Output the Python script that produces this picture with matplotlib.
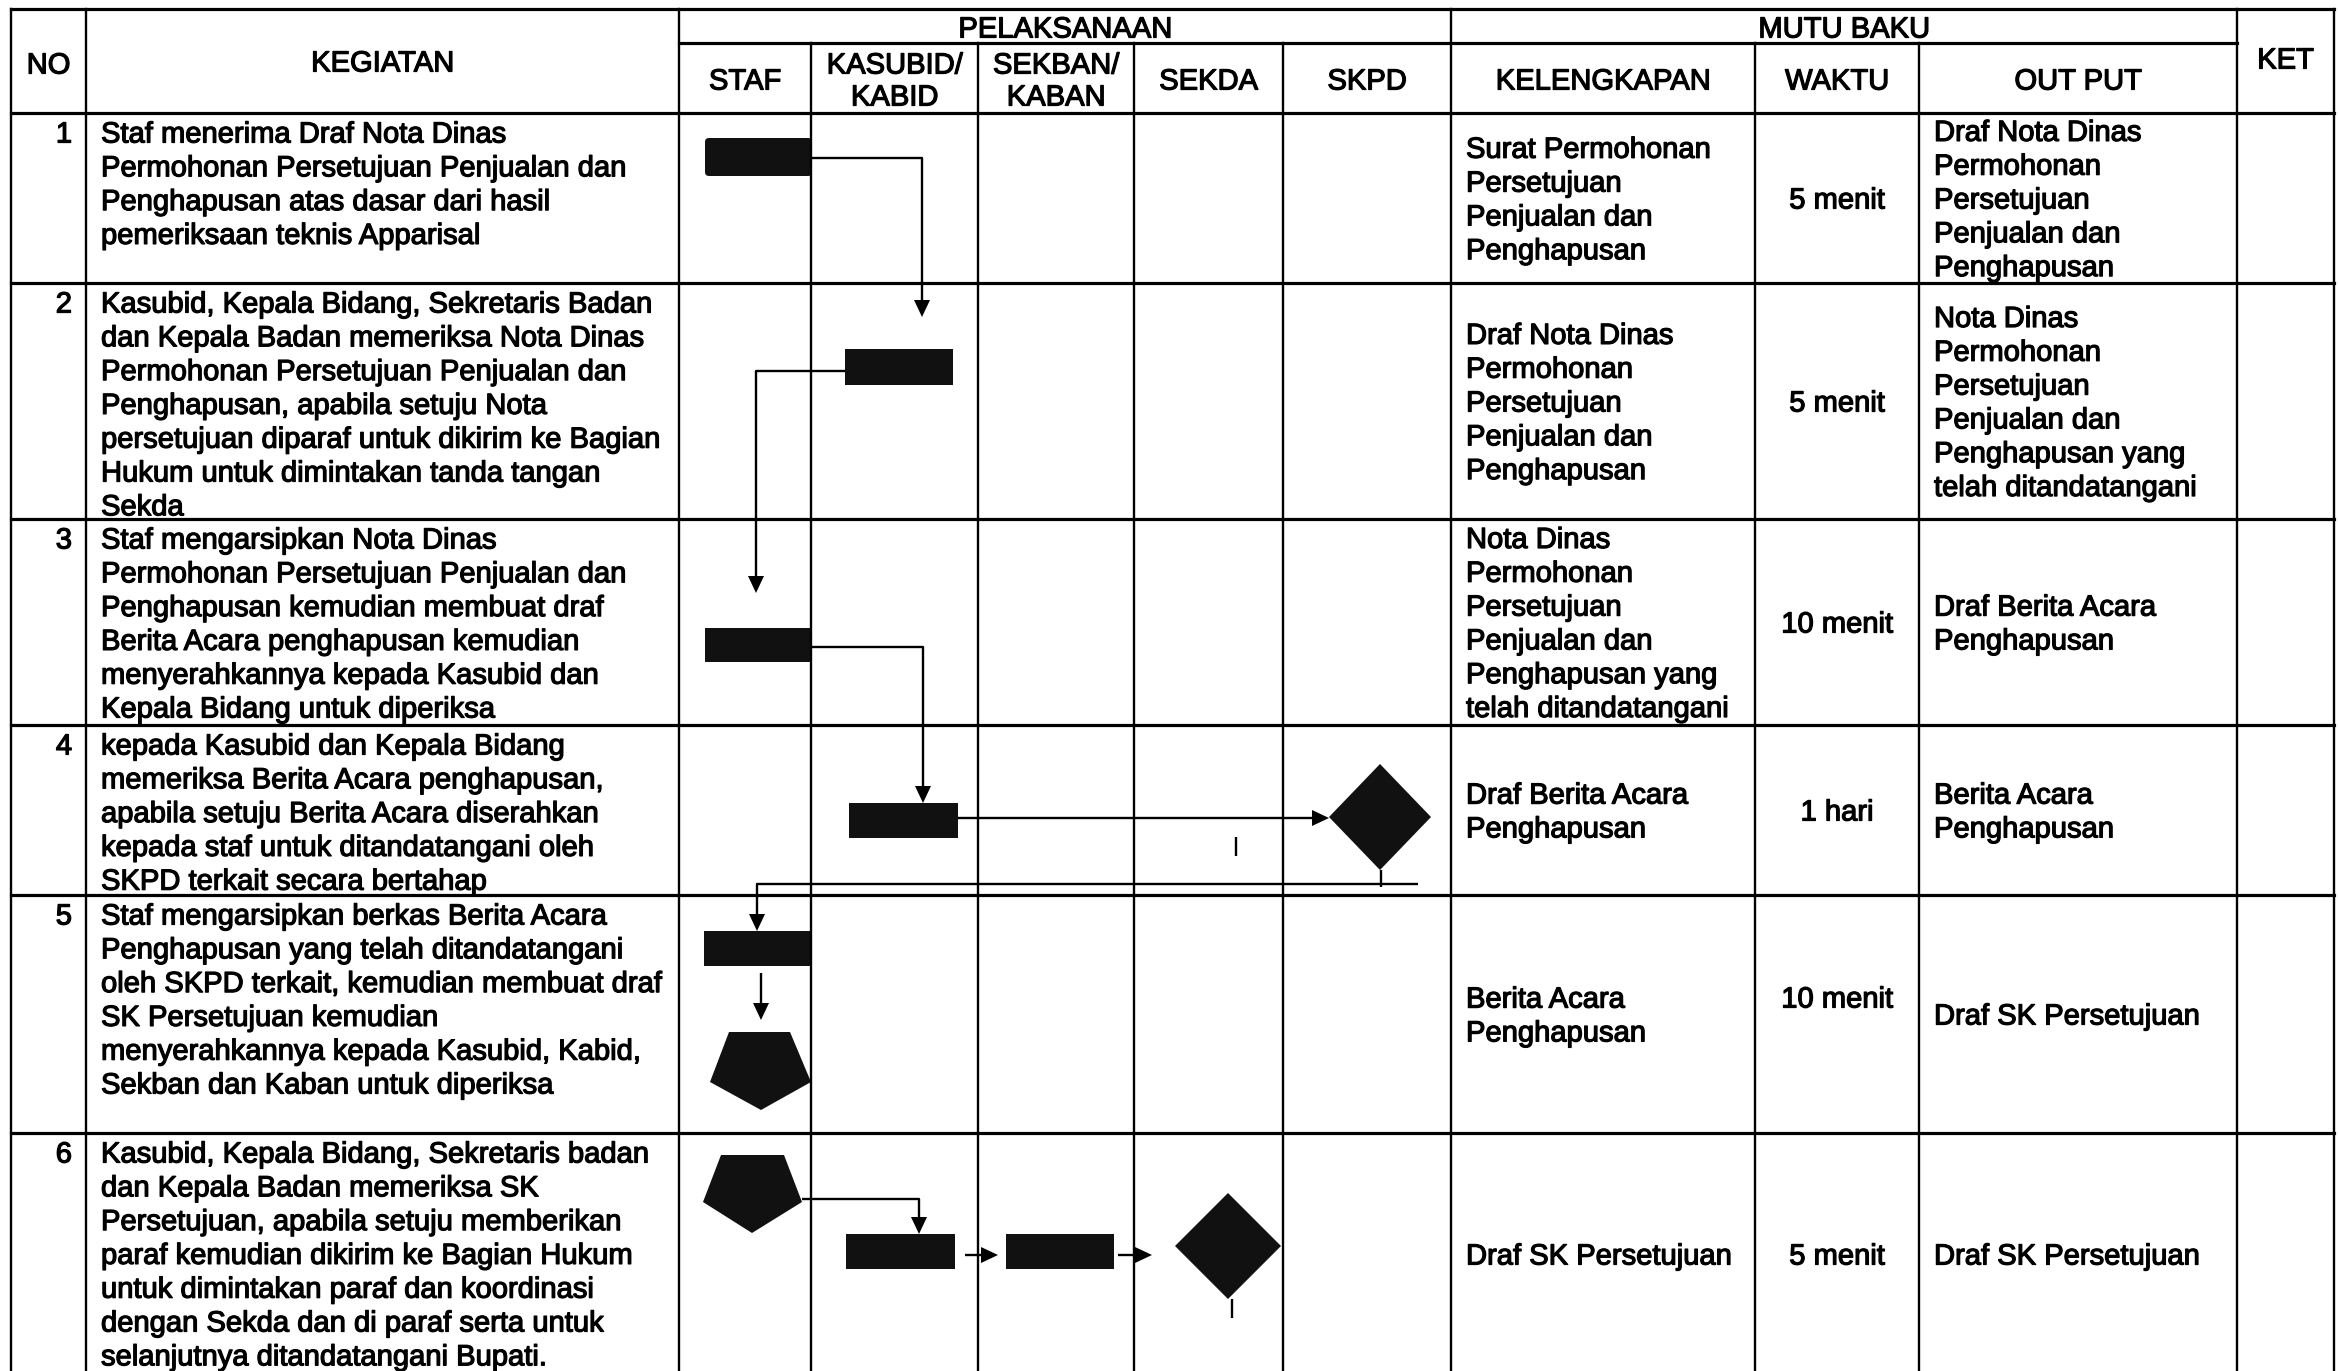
import matplotlib
matplotlib.use("Agg")
import matplotlib.pyplot as plt
from matplotlib.patches import Polygon, FancyBboxPatch, Rectangle
import matplotlib.patheffects as pe

# ---------------- data ----------------
row_numbers = ["1", "2", "3", "4", "5", "6"]

kegiatan = [
    ["Staf menerima Draf Nota Dinas", "Permohonan Persetujuan Penjualan dan",
     "Penghapusan atas dasar dari hasil", "pemeriksaan teknis Apparisal"],
    ["Kasubid, Kepala Bidang, Sekretaris Badan", "dan Kepala Badan memeriksa Nota Dinas",
     "Permohonan Persetujuan Penjualan dan", "Penghapusan, apabila setuju Nota",
     "persetujuan diparaf untuk dikirim ke Bagian", "Hukum untuk dimintakan tanda tangan",
     "Sekda"],
    ["Staf mengarsipkan Nota Dinas", "Permohonan Persetujuan Penjualan dan",
     "Penghapusan kemudian membuat draf", "Berita Acara penghapusan kemudian",
     "menyerahkannya kepada Kasubid dan", "Kepala Bidang untuk diperiksa"],
    ["kepada Kasubid dan Kepala Bidang", "memeriksa Berita Acara penghapusan,",
     "apabila setuju Berita Acara diserahkan", "kepada staf untuk ditandatangani oleh",
     "SKPD terkait secara bertahap"],
    ["Staf mengarsipkan berkas Berita Acara", "Penghapusan yang telah ditandatangani",
     "oleh SKPD terkait, kemudian membuat draf", "SK Persetujuan kemudian",
     "menyerahkannya kepada Kasubid, Kabid,", "Sekban dan Kaban untuk diperiksa"],
    ["Kasubid, Kepala Bidang, Sekretaris badan", "dan Kepala Badan memeriksa SK",
     "Persetujuan, apabila setuju memberikan", "paraf kemudian dikirim ke Bagian Hukum",
     "untuk dimintakan paraf dan koordinasi", "dengan Sekda dan di paraf serta untuk",
     "selanjutnya ditandatangani Bupati."],
]

kelengkapan = [
    ["Surat Permohonan", "Persetujuan", "Penjualan dan", "Penghapusan"],
    ["Draf Nota Dinas", "Permohonan", "Persetujuan", "Penjualan dan", "Penghapusan"],
    ["Nota Dinas", "Permohonan", "Persetujuan", "Penjualan dan", "Penghapusan yang",
     "telah ditandatangani"],
    ["Draf Berita Acara", "Penghapusan"],
    ["Berita Acara", "Penghapusan"],
    ["Draf SK Persetujuan"],
]

waktu = ["5 menit", "5 menit", "10 menit", "1 hari", "10 menit", "5 menit"]

output = [
    ["Draf Nota Dinas", "Permohonan", "Persetujuan", "Penjualan dan", "Penghapusan"],
    ["Nota Dinas", "Permohonan", "Persetujuan", "Penjualan dan", "Penghapusan yang",
     "telah ditandatangani"],
    ["Draf Berita Acara", "Penghapusan"],
    ["Berita Acara", "Penghapusan"],
    ["Draf SK Persetujuan"],
    ["Draf SK Persetujuan"],
]

group_headers = ["PELAKSANAAN", "MUTU BAKU"]
sub_headers = ["STAF", "KASUBID/\nKABID", "SEKBAN/\nKABAN", "SEKDA", "SKPD",
               "KELENGKAPAN", "WAKTU", "OUT PUT"]
main_headers = ["NO", "KEGIATAN", "KET"]

# ---------------- layout ----------------
W, H = 2338, 1371
col_x = [11, 86, 679, 811, 978, 1134, 1283, 1451, 1755, 1919, 2237, 2334]
top_y, sub_y, head_bot = 9, 43, 113
row_y = [113, 283, 519, 725, 895, 1133, 1375]
LS = 33.8          # line spacing in px
CAP = 10.5         # half cap-height in px (center -> baseline)
FS = 21            # font size pt

fig = plt.figure(figsize=(W / 100, H / 100), dpi=100)
ax = fig.add_axes([0, 0, 1, 1])
ax.set_xlim(0, W)
ax.set_ylim(H, 0)
ax.axis("off")

FONT = dict(family=["Liberation Sans", "DejaVu Sans"], fontsize=FS, color="black",
            path_effects=[pe.withStroke(linewidth=0.9, foreground="black")])

def txt(x, yc, s, ha="left"):
    ax.text(x, yc + CAP, s, ha=ha, va="baseline", **FONT)

hl, vl = 2.3, 1.7
# horizontal lines
ax.plot([col_x[0], col_x[-1]], [top_y, top_y], color="black", lw=hl)
ax.plot([col_x[2], col_x[10]], [sub_y, sub_y], color="black", lw=hl)
for y in row_y[:-1]:
    ax.plot([col_x[0], col_x[-1]], [y, y], color="black", lw=hl)
# vertical lines
for i, x in enumerate(col_x):
    y0 = sub_y if i in (3, 4, 5, 6, 8, 9) else top_y
    ax.plot([x, x], [y0, H + 5], color="black", lw=vl)

# header texts
txt((col_x[0] + col_x[1]) / 2, 63, main_headers[0], ha="center")
txt((col_x[1] + col_x[2]) / 2, 61, main_headers[1], ha="center")
txt((col_x[10] + col_x[11]) / 2, 58, main_headers[2], ha="center")
txt((col_x[2] + col_x[7]) / 2, 27, group_headers[0], ha="center")
txt((col_x[7] + col_x[10]) / 2, 27, group_headers[1], ha="center")
for k, s in enumerate(sub_headers):
    cx = (col_x[2 + k] + col_x[3 + k]) / 2
    parts = s.split("\n")
    if len(parts) == 1:
        txt(cx, 79, parts[0], ha="center")
    else:
        txt(cx, 63, parts[0], ha="center")
        txt(cx, 95, parts[1], ha="center")

# body texts
waktu_shift = [0, 0, 0, 0, -17, 0]
for r in range(6):
    top, bot = row_y[r], row_y[r + 1]
    mid = (top + bot) / 2
    first = top + 19
    txt(72, first, row_numbers[r], ha="right")
    for i, line in enumerate(kegiatan[r]):
        txt(101, first + i * LS, line)
    n = len(kelengkapan[r])
    for i, line in enumerate(kelengkapan[r]):
        txt(1466, mid + (i - (n - 1) / 2) * LS, line)
    txt((col_x[8] + col_x[9]) / 2, mid + waktu_shift[r], waktu[r], ha="center")
    n = len(output[r])
    for i, line in enumerate(output[r]):
        txt(1934, mid + (i - (n - 1) / 2) * LS, line)

# ---------------- flow diagram ----------------
SHAPE = "#111111"
# process boxes: (x0, y0, x1, y1, rounded)
boxes = [
    (705, 138, 812, 176, True),
    (845, 349, 953, 385, False),
    (705, 628, 812, 662, False),
    (849, 803, 958, 838, False),
    (704, 931, 812, 966, False),
    (846, 1234, 955, 1269, False),
    (1006, 1234, 1114, 1269, False),
]
for x0, y0, x1, y1, rnd in boxes:
    if rnd:
        ax.add_patch(FancyBboxPatch((x0 + 4, y0 + 4), x1 - x0 - 8, y1 - y0 - 8,
                                    boxstyle="round,pad=4", fc=SHAPE, ec=SHAPE, lw=0))
    else:
        ax.add_patch(Rectangle((x0, y0), x1 - x0, y1 - y0, fc=SHAPE, ec=SHAPE, lw=0))

# decisions: (cx, cy, half_w, half_h)
diamonds = [(1380, 817, 51, 53), (1228, 1246, 53, 53)]
for cx, cy, hw, hh in diamonds:
    ax.add_patch(Polygon([(cx, cy - hh), (cx + hw, cy), (cx, cy + hh), (cx - hw, cy)],
                         closed=True, fc=SHAPE, ec=SHAPE, lw=0))

# off-page connectors (pentagons)
pentagons = [
    [(729, 1032), (790, 1032), (811, 1082), (761, 1110), (710, 1082)],
    [(721, 1155), (784, 1155), (802, 1202), (752, 1233), (703, 1202)],
]
for pts in pentagons:
    ax.add_patch(Polygon(pts, closed=True, fc=SHAPE, ec=SHAPE, lw=0))

# connectors: polyline points, arrow at end?
connectors = [
    ([(812, 158), (922, 158), (922, 317)], True),
    ([(845, 371), (756, 371), (756, 593)], True),
    ([(812, 647), (923, 647), (923, 803)], True),
    ([(958, 818), (1329, 818)], True),
    ([(1381, 870), (1381, 887)], False),
    ([(1418, 884), (757, 884), (757, 931)], True),
    ([(1236, 837), (1236, 856)], False),
    ([(761, 973), (761, 1020)], True),
    ([(802, 1199), (919, 1199), (919, 1234)], True),
    ([(965, 1255), (998, 1255)], True),
    ([(1118, 1255), (1152, 1255)], True),
    ([(1232, 1299), (1232, 1318)], False),
]
AL, AW = 17, 8
for pts, arrow in connectors:
    xs = [p[0] for p in pts]
    ys = [p[1] for p in pts]
    (xa, ya), (xb, yb) = pts[-2], pts[-1]
    if arrow:
        dx, dy = xb - xa, yb - ya
        d = (dx * dx + dy * dy) ** 0.5
        ux, uy = dx / d, dy / d
        bx, by = xb - ux * AL, yb - uy * AL
        xs[-1], ys[-1] = bx, by
        ax.add_patch(Polygon([(xb, yb), (bx - uy * AW, by + ux * AW),
                              (bx + uy * AW, by - ux * AW)],
                             closed=True, fc="black", ec="black", lw=0))
    ax.plot(xs, ys, color="black", lw=1.7, solid_capstyle="butt")

fig.savefig("out.png", dpi=100, facecolor="white")
